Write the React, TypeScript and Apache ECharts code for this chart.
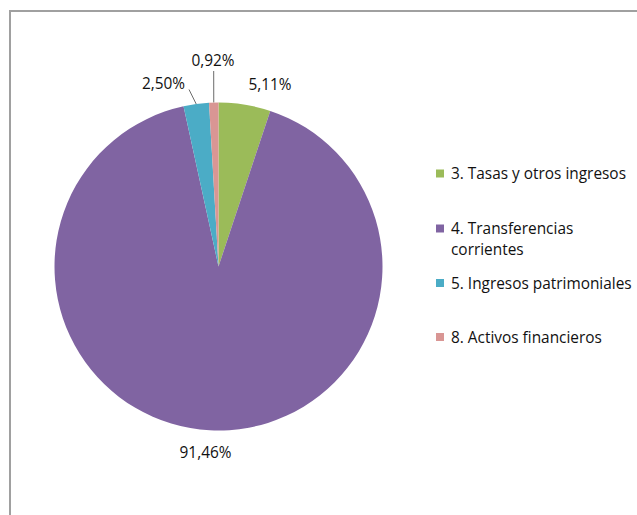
import React, { useEffect, useRef } from "react";
import * as echarts from "echarts";

// ---- data ----
const categories = [
  "3. Tasas y otros ingresos",
  "4. Transferencias corrientes",
  "5. Ingresos patrimoniales",
  "8. Activos financieros",
];
const values = [5.11, 91.46, 2.5, 0.92];
const legendLines = [
  ["3. Tasas y otros ingresos"],
  ["4. Transferencias", "corrientes"],
  ["5. Ingresos patrimoniales"],
  ["8. Activos financieros"],
];

// ---- styles / layout ----
const COLORS = ["#9BBB59", "#8064A2", "#4BACC6", "#D99694"];
const FONT = "'Open Sans', sans-serif";
const FONT_SIZE = 15.4;
const TEXT_COLOR = "#111111";
const CENTER: [number, number] = [218.5, 266.5];
const RADIUS = 164;
const LABEL_LAYOUT = [
  { x: 270, y: 84.5, line: false, end: [0, 0] },
  { x: 205.5, y: 452, line: false, end: [0, 0] },
  { x: 163.5, y: 83.5, line: true, end: [189, 89.5] },
  { x: 213, y: 60.5, line: true, end: [213.7, 71] },
];
const LEGEND_X = 436;
const LEGEND_TEXT_X = 451;
const LEGEND_Y = [173.5, 228.5, 283, 337];
const LEGEND_LINE_H = 21;

const fmt = (v: number) => v.toFixed(2).replace(".", ",") + "%";

export default function App() {
  const ref = useRef<HTMLDivElement>(null);
  useEffect(() => {
    if (!ref.current) return;
    const chart = echarts.init(ref.current, undefined, { renderer: "svg" });

    const legendGraphics: any[] = [];
    legendLines.forEach((lines, i) => {
      legendGraphics.push({
        type: "rect",
        silent: true,
        shape: { x: LEGEND_X, y: LEGEND_Y[i] - 4, width: 8, height: 8 },
        style: { fill: COLORS[i] },
      });
      lines.forEach((t, k) => {
        legendGraphics.push({
          type: "text",
          silent: true,
          x: LEGEND_TEXT_X,
          y: LEGEND_Y[i] + k * LEGEND_LINE_H,
          style: {
            text: t,
            fill: TEXT_COLOR,
            font: `${FONT_SIZE}px ${FONT}`,
            textAlign: "left",
            textVerticalAlign: "middle",
          },
        });
      });
    });

    chart.setOption({
      animation: false,
      backgroundColor: "#ffffff",
      graphic: [
        {
          type: "rect",
          silent: true,
          z: -1,
          shape: { x: 10, y: 11, width: 700, height: 600 },
          style: { fill: "none", stroke: "#a0a0a0", lineWidth: 2 },
        },
        ...legendGraphics,
      ],
      series: [
        {
          type: "pie",
          center: CENTER,
          radius: RADIUS,
          startAngle: 90,
          clockwise: true,
          avoidLabelOverlap: false,
          data: categories.map((name, i) => ({
            name,
            value: values[i],
            itemStyle: { color: COLORS[i] },
            labelLine: { show: LABEL_LAYOUT[i].line },
          })),
          label: {
            show: true,
            position: "outside",
            formatter: (p: any) => fmt(p.value),
            color: TEXT_COLOR,
            fontFamily: FONT,
            fontSize: FONT_SIZE,
          },
          labelLine: {
            show: true,
            lineStyle: { color: "#6b6b6b", width: 1 },
          },
          labelLayout: (params: any) => {
            const L = LABEL_LAYOUT[params.dataIndex];
            const start =
              params.labelLinePoints && params.labelLinePoints[0]
                ? params.labelLinePoints[0]
                : null;
            const out: any = {
              x: L.x,
              y: L.y,
              align: "center",
              verticalAlign: "middle",
            };
            if (L.line && start) {
              out.labelLinePoints = [start, L.end, L.end];
            }
            return out;
          },
          emphasis: { disabled: true },
        },
      ],
    });
    return () => chart.dispose();
  }, []);
  return (
    <div
      ref={ref}
      style={{
        position: "fixed",
        left: 0,
        top: 0,
        width: 637,
        height: 515,
        background: "#fff",
      }}
    />
  );
}
